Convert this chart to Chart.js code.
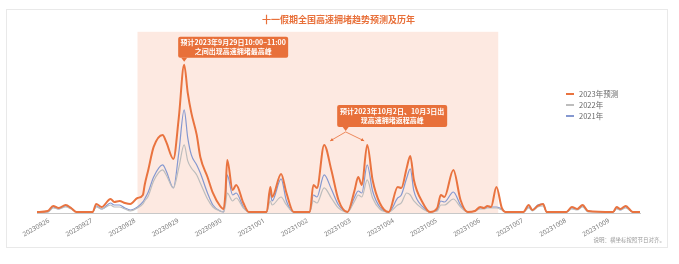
<!DOCTYPE html>
<html>
<head>
<meta charset="utf-8">
<script src="https://cdn.jsdelivr.net/npm/chart.js@4/dist/chart.umd.min.js"></script>
<style>
html, body { margin: 0; padding: 0; background: #fff; }
body { width: 679px; height: 264px; position: relative; overflow: hidden; font-family: "Noto Sans CJK SC", "Noto Sans", sans-serif; }
#card { position: absolute; left: 6px; top: 9px; width: 662px; height: 239px; border: 1px solid #e9e9e9; box-sizing: border-box; }
#wrap { position: absolute; left: 0; top: 0; width: 679px; height: 264px; }
#legend { position: absolute; left: 566px; top: 88px; font-size: 7.5px; color: #666; line-height: 11px; }
#legend .item { display: flex; align-items: center; }
#legend .sw { width: 8px; height: 2px; margin-right: 5px; }
#note { position: absolute; right: 14px; top: 236px; font-size: 5.5px; color: #999; }
</style>
</head>
<body>
<div id="card"></div>
<div id="wrap"><canvas id="chart" width="679" height="264"></canvas></div>
<div id="legend"></div>
<div id="note">说明：横坐标按照节日对齐。</div>
<script>
// 日期刻度（每天一个）
const dayLabels = ['20230926', '20230927', '20230928', '20230929', '20230930', '20231001', '20231002',
    '20231003', '20231004', '20231005', '20231006', '20231007', '20231008', '20231009'];

// 从 9/26 00:00 起的小时数
const hours = [0, 6, 9, 12, 16, 19, 22, 31, 33, 36, 41, 43, 46, 49, 52, 56, 59, 60, 62, 65, 70, 72, 76, 79,
    82, 84, 86, 89, 91, 95, 98, 102, 104, 105, 106, 109, 111, 115, 118, 128, 130, 131, 136, 139, 143,
    152, 154, 156, 160, 164, 168, 173, 177, 179, 181, 184, 187, 191, 196, 201, 203, 206, 208, 210,
    215, 219, 223, 225, 227, 232, 236, 240, 244, 247, 249, 251, 253, 256, 259, 261, 271, 274, 276,
    279, 282, 284, 295, 298, 301, 304, 307, 321, 323, 325, 328, 332, 336];

const pred2023 = [1, 2, 7, 5, 8, 5, 1, 1, 9, 6, 14, 11, 12, 10, 9, 15, 18, 28, 43, 66, 78, 71, 54, 95,
    148, 120, 100, 78, 56, 36, 20, 7, 4, 20, 53, 23, 28, 10, 1, 1, 26, 16, 39, 20, 1,
    1, 28, 25, 68, 43, 13, 1, 23, 36, 28, 68, 33, 10, 1, 26, 25, 45, 57, 33,
    10, 1, 5, 18, 16, 43, 13, 1, 2, 6, 5, 7, 6, 26, 5, 1, 1, 8, 3,
    7, 9, 1, 1, 6, 4, 8, 2, 1, 6, 4, 7, 1, 1];

const year2022 = [1, 1, 5, 4, 6, 4, 1, 1, 6, 4, 8, 6, 6, 4, 2, 5, 9, 12, 17, 32, 43, 38, 25, 45,
    68, 52, 45, 38, 30, 14, 6, 2, 1, 8, 20, 12, 15, 5, 1, 1, 12, 8, 16, 8, 1,
    1, 12, 10, 25, 15, 5, 1, 12, 18, 16, 33, 15, 4, 1, 8, 10, 20, 18, 12,
    4, 1, 2, 8, 8, 14, 6, 1, 2, 4, 4, 5, 5, 5, 3, 1, 1, 5, 2,
    6, 7, 1, 1, 4, 3, 6, 1, 1, 4, 3, 5, 1, 1];

const year2021 = [1, 1, 6, 4, 7, 5, 1, 1, 7, 4, 10, 8, 8, 5, 3, 6, 11, 14, 21, 36, 48, 42, 25, 60,
    103, 75, 58, 48, 40, 20, 8, 2, 1, 14, 38, 18, 20, 6, 1, 1, 20, 12, 34, 12, 1,
    1, 18, 16, 38, 24, 8, 1, 16, 22, 20, 48, 22, 6, 1, 15, 18, 35, 44, 22,
    6, 1, 3, 12, 11, 21, 8, 1, 2, 5, 5, 6, 6, 6, 4, 1, 1, 6, 3,
    8, 9, 1, 1, 5, 4, 7, 2, 1, 5, 3, 6, 1, 1];

const seriesNames = ['2023年预测', '2022年', '2021年'];
const seriesColors = ['#e9733f', '#bdbdbd', '#8598d0'];

// 假期阴影范围（小时）与标注峰值位置
const holidayStart = 56, holidayEnd = 257;
const mainPeak = 82;
const returnPeaks = [160, 184];

const callout1 = ['预计2023年9月29日10:00–11:00', '之间出现高速拥堵最高峰'];
const callout2 = ['预计2023年10月2日、10月3日出', '现高速拥堵返程高峰'];

const toPoints = vals => hours.map((h, i) => ({ x: h, y: vals[i] }));

// 假期阴影
const holidayShade = {
    id: 'holidayShade',
    beforeDatasetsDraw(chart) {
        const { ctx, chartArea, scales: { x } } = chart;
        const x1 = x.getPixelForValue(holidayStart);
        const x2 = x.getPixelForValue(holidayEnd);
        ctx.save();
        ctx.fillStyle = '#fde9e1';
        ctx.fillRect(x1, chartArea.top, x2 - x1, chartArea.bottom - chartArea.top);
        ctx.restore();
    }
};

function drawBox(ctx, left, top, w, h, lines, tipX) {
    ctx.fillStyle = '#e8703a';
    ctx.beginPath();
    ctx.roundRect(left, top, w, h, 2);
    ctx.fill();
    ctx.beginPath();
    ctx.moveTo(tipX - 3, top + h);
    ctx.lineTo(tipX + 3, top + h);
    ctx.lineTo(tipX, top + h + 4);
    ctx.closePath();
    ctx.fill();
    ctx.fillStyle = '#fff';
    ctx.textAlign = 'center';
    ctx.textBaseline = 'middle';
    lines.forEach((t, i) => ctx.fillText(t, left + w / 2, top + 6 + i * 9));
}

function arrow(ctx, x1, y1, x2, y2) {
    const a = Math.atan2(y2 - y1, x2 - x1);
    ctx.beginPath();
    ctx.moveTo(x1, y1);
    ctx.lineTo(x2, y2);
    ctx.stroke();
    ctx.beginPath();
    ctx.moveTo(x2, y2);
    ctx.lineTo(x2 - 3.5 * Math.cos(a - 0.5), y2 - 3.5 * Math.sin(a - 0.5));
    ctx.lineTo(x2 - 3.5 * Math.cos(a + 0.5), y2 - 3.5 * Math.sin(a + 0.5));
    ctx.closePath();
    ctx.fill();
}

// 两个橙色标注框
const callouts = {
    id: 'callouts',
    afterDatasetsDraw(chart) {
        const { ctx, scales: { x, y } } = chart;
        ctx.save();
        ctx.font = 'bold 7px "Noto Sans CJK SC", sans-serif';

        const p1x = x.getPixelForValue(mainPeak);
        const p1y = y.getPixelForValue(pred2023[hours.indexOf(mainPeak)]);
        drawBox(ctx, p1x - 6, p1y - 28, 110, 21, callout1, p1x);

        const ax = x.getPixelForValue(returnPeaks[0]);
        const ay = y.getPixelForValue(pred2023[hours.indexOf(returnPeaks[0])]);
        const bx = x.getPixelForValue(returnPeaks[1]);
        const by = y.getPixelForValue(pred2023[hours.indexOf(returnPeaks[1])]);
        const mid = (ax + bx) / 2;
        const top = Math.min(ay, by) - 40;
        drawBox(ctx, mid - 8.5, top, 110, 22, callout2, mid);

        ctx.strokeStyle = '#e8703a';
        ctx.fillStyle = '#e8703a';
        ctx.lineWidth = 0.8;
        arrow(ctx, mid, top + 27, ax + 6, ay - 4);
        arrow(ctx, mid, top + 27, bx - 3, by - 4);
        ctx.restore();
    }
};

new Chart(document.getElementById('chart'), {
    type: 'line',
    data: {
        datasets: [
            { label: seriesNames[0], data: toPoints(pred2023), borderColor: seriesColors[0], borderWidth: 2 },
            { label: seriesNames[1], data: toPoints(year2022), borderColor: seriesColors[1], borderWidth: 1.2 },
            { label: seriesNames[2], data: toPoints(year2021), borderColor: seriesColors[2], borderWidth: 1.2 }
        ]
    },
    options: {
        responsive: false,
        animation: false,
        layout: { padding: { left: 37, right: 39, top: 0, bottom: 15 } },
        elements: {
            point: { radius: 0 },
            line: { cubicInterpolationMode: 'monotone', fill: false }
        },
        plugins: {
            legend: { display: false },
            tooltip: { enabled: false },
            title: {
                display: true,
                text: '十一假期全国高速拥堵趋势预测及历年',
                color: '#e8703a',
                font: { size: 9, weight: 'bold', family: '"Noto Sans CJK SC", sans-serif' },
                padding: { top: 14, bottom: 7 }
            }
        },
        scales: {
            x: {
                type: 'linear',
                min: 0,
                max: 336,
                afterBuildTicks: s => { s.ticks = dayLabels.map((_, i) => ({ value: i * 24 })); },
                afterFit: s => { s.height = 36; },
                grid: { display: false },
                border: { display: true, color: '#c8c8c8' },
                ticks: {
                    autoSkip: false,
                    maxRotation: 30,
                    minRotation: 30,
                    labelOffset: 12,
                    padding: -4,
                    color: '#777',
                    font: { size: 6.5, family: '"Noto Sans", sans-serif' },
                    callback: v => dayLabels[Math.round(v / 24)]
                }
            },
            y: { display: false, min: 0, max: 181 }
        }
    },
    plugins: [holidayShade, callouts]
});

// 图例
document.getElementById('legend').innerHTML = seriesNames.map((n, i) => `
    <div class="item"><span class="sw" style="background:${seriesColors[i]}"></span>${n}</div>
`).join('');
</script>
</body>
</html>
